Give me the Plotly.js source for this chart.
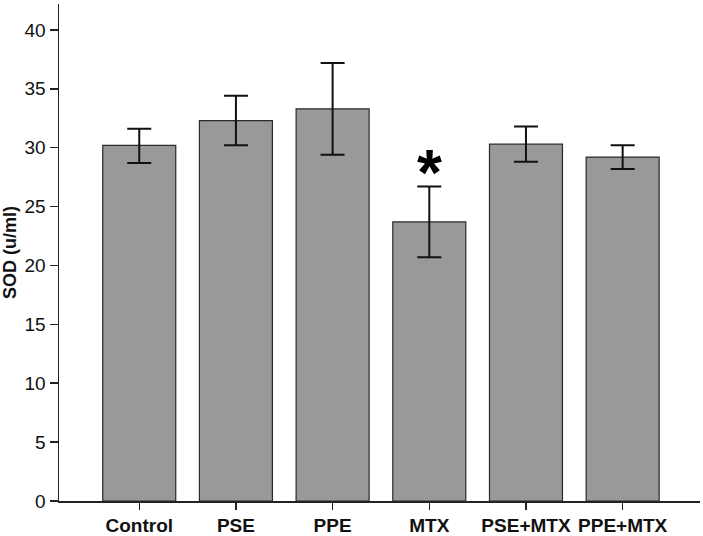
<!DOCTYPE html>
<html>
<head>
<meta charset="utf-8">
<script src="https://cdn.plot.ly/plotly-3.0.1.min.js"></script>
<style>html,body{margin:0;padding:0;background:#fff;}#chart{width:703px;height:536px;}</style>
</head>
<body>
<div id="chart"></div>
<script>
const categories = ["Control", "PSE", "PPE", "MTX", "PSE+MTX", "PPE+MTX"];
const sodMean = [30.2, 32.3, 33.3, 23.7, 30.3, 29.2];
const errUpper = [1.4, 2.1, 3.9, 3.0, 1.5, 1.0];
const errLower = [1.5, 2.1, 3.9, 3.0, 1.5, 1.0];
const markerLabel = "*";
const markerCategory = "MTX";
const markerValue = 28.6;

const trace = {
  type: "bar",
  x: categories,
  y: sodMean,
  width: 0.755,
  marker: {color: "#999999", line: {color: "#2a2a2a", width: 1.2}},
  error_y: {type: "data", symmetric: false, array: errUpper, arrayminus: errLower,
            color: "#111111", thickness: 2, width: 12},
  hoverinfo: "none"
};

const layout = {
  width: 703, height: 536,
  margin: {l: 59, r: 3, t: 4, b: 35},
  paper_bgcolor: "#ffffff", plot_bgcolor: "#ffffff",
  showlegend: false,
  font: {family: "Liberation Sans, Arial, sans-serif", color: "#111111"},
  xaxis: {
    type: "category", range: [-0.83, 5.8], autorange: false,
    showline: true, linecolor: "#222222", linewidth: 1.5,
    ticks: "outside", ticklen: 7, tickwidth: 1.5, tickcolor: "#222222",
    tickfont: {size: 19, family: "Liberation Sans, Arial, sans-serif", weight: "bold"},
    showgrid: false, zeroline: false
  },
  yaxis: {
    range: [0, 42.2], autorange: false,
    tickvals: [0, 5, 10, 15, 20, 25, 30, 35, 40],
    showline: true, linecolor: "#222222", linewidth: 1.5,
    ticks: "outside", ticklen: 8, tickwidth: 1.5, tickcolor: "#222222",
    tickfont: {size: 19},
    showgrid: false, zeroline: false,
    title: {text: "SOD (u/ml)", font: {size: 18, weight: "bold"}, standoff: 4}
  },
  annotations: [{
    x: markerCategory, y: markerValue, xref: "x", yref: "y",
    text: markerLabel, showarrow: false,
    font: {size: 64, weight: "bold", color: "#000000"},
    yanchor: "middle", yshift: -9
  }]
};

Plotly.newPlot("chart", [trace], layout, {staticPlot: true, displayModeBar: false});
</script>
</body>
</html>
